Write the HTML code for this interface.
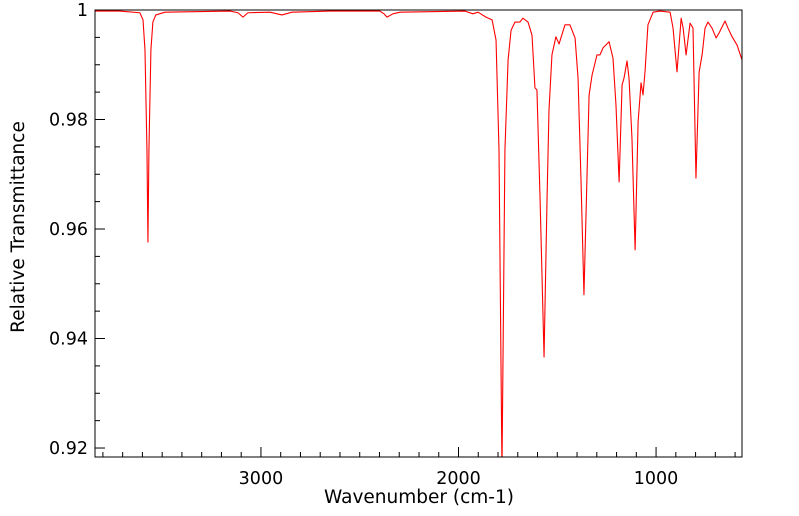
<!DOCTYPE html>
<html><head><meta charset="utf-8"><style>
html,body{margin:0;padding:0;background:#fff;}
svg{display:block;font-family:"DejaVu Sans","Liberation Sans",sans-serif;}
</style></head><body>
<svg id="chart" width="799" height="516" viewBox="0 0 799 516">
<defs><clipPath id="clip"><rect x="95" y="10" width="647" height="447"/></clipPath></defs>
<g id="ticks"></g>
<g id="labels"></g>
<path id="line" clip-path="url(#clip)" fill="none" stroke="#ff0000" stroke-width="1.1" stroke-linejoin="round"/>
<rect x="95" y="10" width="647" height="447" fill="none" stroke="#000" stroke-width="1"/>
<text x="419" y="503" font-size="18.5" text-anchor="middle">Wavenumber (cm-1)</text>
<text transform="translate(24,227) rotate(-90)" font-size="18.5" text-anchor="middle">Relative Transmittance</text>
</svg>
<script>
const wavenumbers=[3840,3714,3613,3597,3587,3577,3572,3567,3557,3547,3532,3486,3157,3116,3091,3066,2954,2894,2843,2651,2398,2377,2362,2332,2296,1967,1927,1901,1861,1830,1810,1795,1780,1765,1749,1734,1714,1689,1674,1648,1628,1613,1603,1587,1567,1552,1542,1527,1507,1491,1461,1436,1410,1395,1380,1365,1350,1339,1324,1299,1284,1268,1238,1218,1203,1187,1172,1162,1147,1137,1122,1106,1091,1076,1066,1056,1041,1015,980,929,914,894,873,863,848,828,813,798,782,767,752,737,717,696,681,651,636,615,590,565];
const transmittance=[.9998,.9998,.9995,.9982,.9927,.9744,.9576,.9744,.9927,.9978,.9991,.9996,.9998,.9995,.9987,.9995,.9996,.9991,.9996,.9998,.9998,.9993,.9987,.9993,.9996,.9998,.9993,.9996,.9987,.9982,.9945,.9744,.916,.9744,.9909,.9963,.9978,.9978,.9985,.9978,.9954,.9858,.9854,.9653,.9366,.9653,.9817,.9918,.9951,.9938,.9973,.9973,.9949,.9876,.969,.948,.969,.9845,.9881,.9918,.9918,.9931,.9942,.9912,.9827,.9686,.9863,.9876,.9907,.9876,.9766,.9562,.9795,.9867,.9845,.9887,.9973,.9996,.9998,.9996,.9967,.9887,.9985,.9967,.9918,.9976,.9967,.9693,.9887,.9918,.9967,.9978,.9967,.9949,.9958,.998,.9967,.9951,.9936,.9909];
const xTickLabels=[3000,2000,1000];
const yTickLabels=[1,0.98,0.96,0.94,0.92];
const X0=95,X1=742,Y0=10,Y1=457;
const WMAX=3840,WMIN=565,TMAX=1.0,TMIN=0.91836;
function sx(w){return X0+(WMAX-w)/(WMAX-WMIN)*(X1-X0);}
function sy(t){return Y0+(TMAX-t)/(TMAX-TMIN)*(Y1-Y0);}
const NS="http://www.w3.org/2000/svg";
let d="";
for(let i=0;i<wavenumbers.length;i++){d+=(i?"L":"M")+sx(wavenumbers[i]).toFixed(2)+","+sy(transmittance[i]).toFixed(2);}
document.getElementById("line").setAttribute("d",d);
const tg=document.getElementById("ticks"),lg=document.getElementById("labels");
function ln(x1,y1,x2,y2){const l=document.createElementNS(NS,"line");l.setAttribute("x1",x1);l.setAttribute("y1",y1);l.setAttribute("x2",x2);l.setAttribute("y2",y2);l.setAttribute("stroke","#000");l.setAttribute("stroke-width","1");


tg.appendChild(l);}
for(let w=600;w<=3800;w+=100){const x=sx(w);const major=w%1000===0;ln(x,Y1,x,Y1-(major?10:5));}
for(let k=0;k<=16;k++){const t=0.92+k*0.005;if(t>TMAX+1e-9)break;const y=sy(t);const major=Math.abs((t*100)%2)<1e-6||Math.abs((t*100)%2-2)<1e-6;ln(X0,y,X0+(major?10:5),y);}
xTickLabels.forEach(v=>{const t=document.createElementNS(NS,"text");t.setAttribute("x",sx(v));t.setAttribute("y",484);t.setAttribute("font-size","17.5");t.setAttribute("text-anchor","middle");t.textContent=v;


lg.appendChild(t);});
yTickLabels.forEach(v=>{const t=document.createElementNS(NS,"text");t.setAttribute("x",88);t.setAttribute("y",sy(v)+6);t.setAttribute("font-size","17.5");t.setAttribute("text-anchor","end");t.textContent=v;


lg.appendChild(t);});
</script>
</body></html>
